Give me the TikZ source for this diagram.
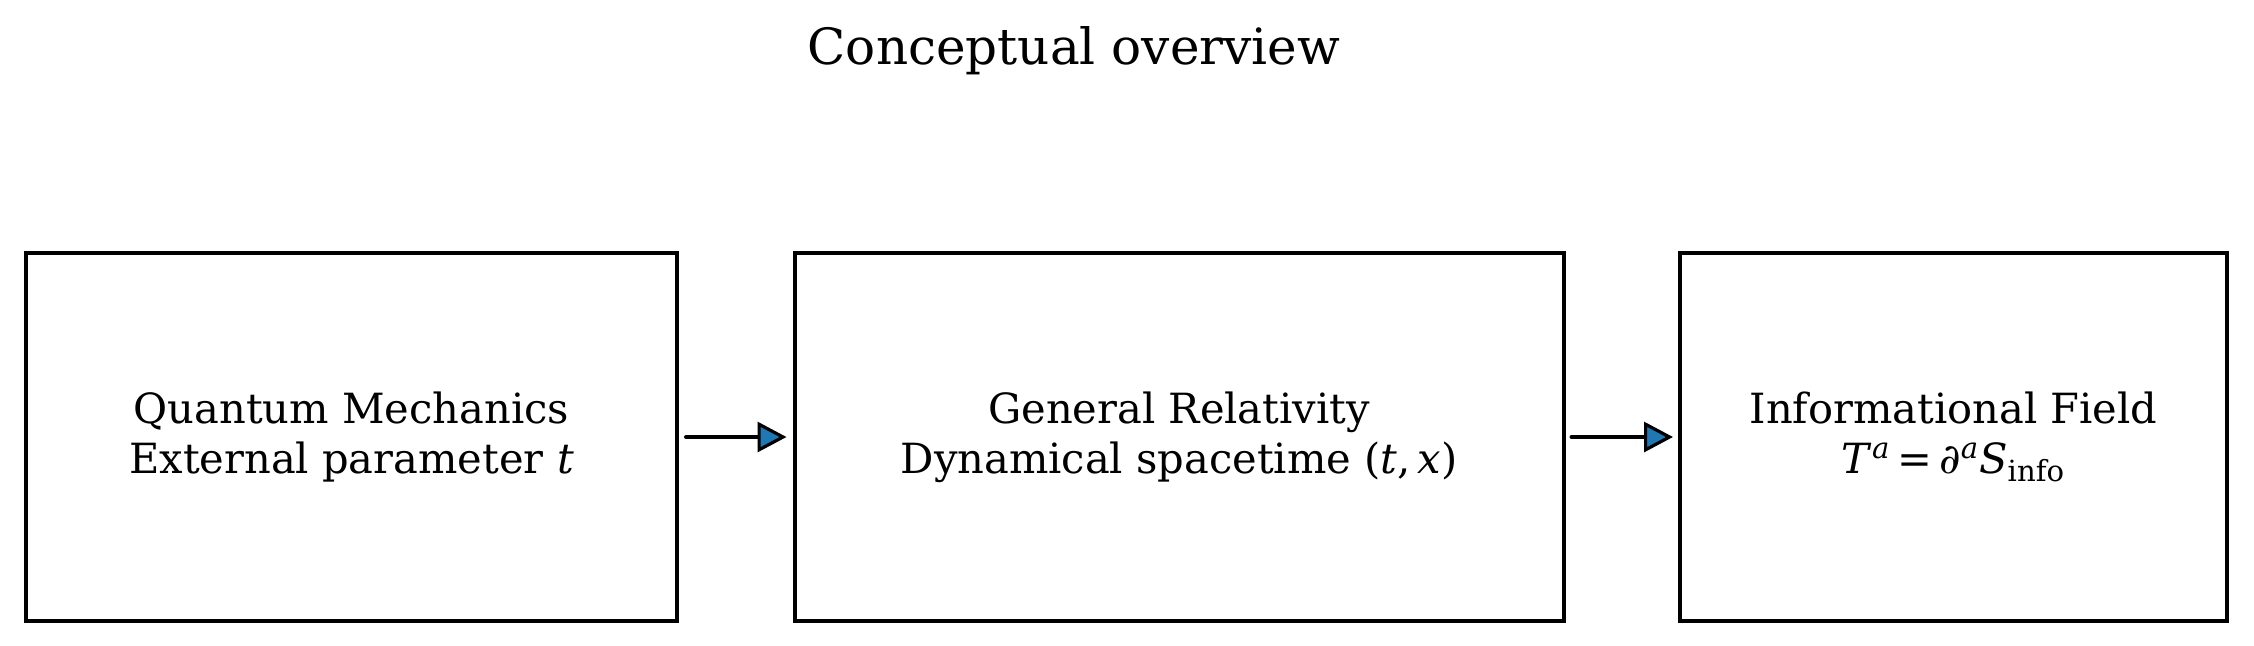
\documentclass[tikz,border=0pt]{standalone}
\usepackage{fontspec}
\setmainfont{DejaVu Serif}
\usetikzlibrary{arrows.meta}
\definecolor{tabblue}{HTML}{1F77B4}
\begin{document}
\begin{tikzpicture}[x=0.5pt,y=-0.5pt,
  box/.style={draw=black, line width=2pt, align=center, inner sep=0pt, outer sep=0pt,
    font=\fontsize{20.8}{25}\selectfont},
  arr/.style={line width=2pt, line cap=round, -{Triangle[length=14.5pt,width=15pt,fill=tabblue,line width=1.6pt]}}]
\useasboundingbox (0,0) rectangle (2254,645);
\node[anchor=base, font=\fontsize{25}{30}\selectfont] (title) at (1074,64) {Conceptual overview};
\node[box, minimum width=325.5pt, minimum height=184pt] (qm) at (351.5,437)
  {Quantum Mechanics\\External parameter \textit{t}};
\node[box, minimum width=384.5pt, minimum height=184pt] (gr) at (1179,437)
  {General Relativity\\Dynamical spacetime (\textit{t},\,\textit{x})};
\node[box, minimum width=273.5pt, minimum height=184pt] (inf) at (1953.5,437)
  {Informational Field\\\textit{T}\textsuperscript{\textit{a}}\,=\,∂\textsuperscript{\textit{a}}\textit{S}\textsubscript{info}};
\draw[arr, shorten <=4.5pt, shorten >=4pt] (qm.east) -- (gr.west);
\draw[arr, shorten <=4pt, shorten >=3.5pt] (gr.east) -- (inf.west);
\end{tikzpicture}
\end{document}
